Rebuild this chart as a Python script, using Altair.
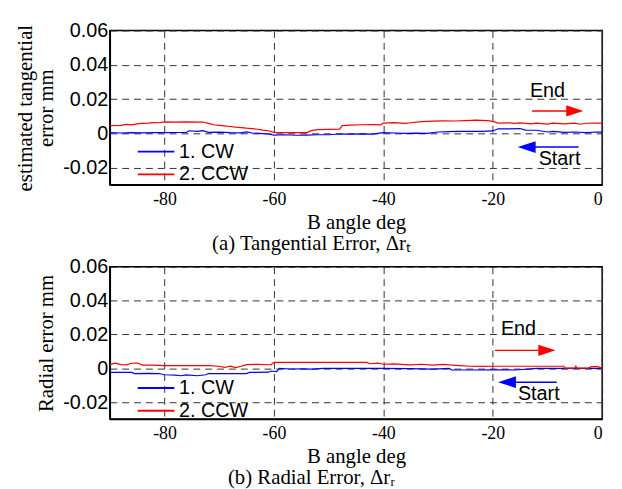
import altair as alt
import pandas as pd

# ---------------- data ----------------
series_names = ["1. CW", "2. CCW"]
series_colors = ["#0000ff", "#ff0000"]

# (a) tangential error, CCW (red)
tan_ccw_x = [-90, -88, -87, -86, -85, -84, -83, -82, -81, -80, -78, -76, -74, -73, -72, -71, -70, -69,
             -68, -67, -66, -65, -64, -63, -62, -61, -60, -58, -56, -54, -53, -52, -50, -48, -47.5,
             -46, -44, -42, -40.5, -40, -38, -36, -35, -33, -31, -29, -27, -25, -23, -21, -20, -19,
             -17, -16, -15, -13, -12, -10, -9, -7, -5, -4, -3, -1, 0]
tan_ccw_y = [0.0045, 0.0047, 0.0052, 0.0050, 0.0055, 0.0058, 0.0060, 0.0063, 0.0062, 0.0067, 0.0066,
             0.0067, 0.0065, 0.0066, 0.0058, 0.0050, 0.0047, 0.0044, 0.0040, 0.0036, 0.0033, 0.0030,
             0.0028, 0.0024, 0.0019, 0.0015, 0.0006, 0.0004, 0.0005, 0.0004, 0.0017, 0.0022, 0.0023,
             0.0025, 0.0045, 0.0048, 0.0050, 0.0051, 0.0050, 0.0060, 0.0063, 0.0058, 0.0062, 0.0068,
             0.0071, 0.0073, 0.0072, 0.0074, 0.0077, 0.0074, 0.0070, 0.0060, 0.0061, 0.0058, 0.0061,
             0.0055, 0.0060, 0.0054, 0.0060, 0.0055, 0.0060, 0.0053, 0.0059, 0.0060, 0.0060]

# (a) tangential error, CW (blue)
tan_cw_x = [-90, -88, -86, -84, -82, -80, -78, -76, -75.5, -74, -73, -72, -70, -68, -66, -65, -64, -62,
            -61, -60, -58, -56, -54, -52, -50, -48, -46, -44, -42, -40, -38, -36, -34, -32, -30, -28,
            -26, -24, -22, -20, -19, -17, -15, -14, -12, -10, -9, -7, -5, -3, -1, 0]
tan_cw_y = [0.0004, 0.0002, 0.0004, 0.0003, 0.0004, 0.0004, 0.0005, 0.0006, 0.0015, 0.0012, 0.0016,
            0.0006, 0.0007, 0.0004, 0.0003, 0.0008, 0.0002, -0.0002, -0.0004, -0.0010, -0.0008,
            -0.0011, -0.0010, -0.0008, -0.0008, -0.0004, -0.0004, -0.0003, -0.0004, 0.0004, 0.0002,
            0.0000, 0.0001, 0.0000, 0.0008, 0.0010, 0.0012, 0.0011, 0.0012, 0.0014, 0.0027, 0.0026,
            0.0028, 0.0019, 0.0018, 0.0008, 0.0012, 0.0006, 0.0008, 0.0004, 0.0008, 0.0007]

# (b) radial error, CCW (red)
rad_ccw_x = [-90, -89, -88, -87, -86, -85, -84, -82, -80, -76, -72, -70, -69, -68, -67, -66, -65, -63,
             -61, -60.5, -60, -55, -50, -45, -43, -42.5, -41, -40, -38, -36, -35, -33, -31, -29, -28,
             -26, -24, -22, -20, -18, -14, -10, -7, -6.8, -5, -4.8, -4.6, -2.5, -2, -0.8, 0]
rad_ccw_y = [0.0022, 0.0031, 0.0022, 0.0020, 0.0030, 0.0031, 0.0019, 0.0019, 0.0016, 0.0016, 0.0016,
             0.0012, 0.0005, 0.0013, 0.0004, 0.0012, 0.0022, 0.0023, 0.0021, 0.0022, 0.0035, 0.0035,
             0.0035, 0.0035, 0.0035, 0.0027, 0.0031, 0.0024, 0.0026, 0.0022, 0.0020, 0.0024, 0.0019,
             0.0023, 0.0020, 0.0016, 0.0012, 0.0011, 0.0012, 0.0012, 0.0012, 0.0012, 0.0012, 0.0001,
             0.0001, 0.0012, 0.0001, 0.0001, 0.0010, 0.0010, 0.0001]

# (b) radial error, CW (blue)
rad_cw_x = [-90, -86, -85.5, -83, -81, -80, -78, -77, -76, -74, -72.5, -72, -68, -65, -64.5, -61,
            -60.5, -59.5, -59, -57, -55, -53, -51, -45, -40, -35, -31, -28, -27.5, -24, -20, -16,
            -13, -12, -5, 0]
rad_cw_y = [-0.0024, -0.0024, -0.0031, -0.0030, -0.0031, -0.0038, -0.0040, -0.0044, -0.0039, -0.0044,
            -0.0038, -0.0031, -0.0031, -0.0031, -0.0024, -0.0023, -0.0016, -0.0020, 0.0000, -0.0004,
            -0.0003, -0.0005, 0.0000, 0.0000, 0.0000, -0.0002, -0.0005, 0.0000, -0.0009, -0.0010,
            -0.0009, -0.0010, -0.0003, 0.0000, 0.0000, 0.0000]

# annotation anchors (data units): [x, y]
tan_end_label = [-13.2, 0.0246]
tan_start_label = [-11.6, -0.0149]
tan_end_arrow = [-12.8, -5.0, 0.0131]      # shaft start x, head x, y
tan_start_arrow = [-4.3, -13.8, -0.0080]
rad_end_label = [-18.5, 0.0229]
rad_start_label = [-15.4, -0.0153]
rad_end_arrow = [-19.6, -10.1, 0.0106]
rad_start_arrow = [-8.3, -17.4, -0.0082]

x_ticks = [-80, -60, -40, -20, 0]
y_ticks = [-0.02, 0, 0.02, 0.04, 0.06]

SANS = "Liberation Sans"
SERIF = "Liberation Serif"
RIGHT_HEAD = "M-1,-0.65L1,0L-1,0.65Z"
LEFT_HEAD = "M1,-0.65L-1,0L1,0.65Z"
LEGEND_LINE = "M-1,0L3,0"


def panel(cw_x, cw_y, ccw_x, ccw_y, ytitle, caption, end_lbl, start_lbl, end_arr, start_arr, h):
    df = pd.concat([
        pd.DataFrame({"deg": cw_x, "err": cw_y, "series": series_names[0]}),
        pd.DataFrame({"deg": ccw_x, "err": ccw_y, "series": series_names[1]}),
    ])
    xs = alt.Scale(domain=[-90, 0], nice=False)
    ys = alt.Scale(domain=[-0.03, 0.06], nice=False)
    lines = alt.Chart(df).mark_line(strokeWidth=1.2).encode(
        x=alt.X("deg:Q", scale=xs, title="B angle deg",
                axis=alt.Axis(values=x_ticks, tickCount=20, labelExpr="'' + datum.value")),
        y=alt.Y("err:Q", scale=ys, title=ytitle,
                axis=alt.Axis(values=y_ticks, tickCount=20, labelOverlap=False,
                              labelExpr="'' + datum.value")),
        color=alt.Color("series:N",
                        scale=alt.Scale(domain=series_names, range=series_colors),
                        legend=alt.Legend(title=None, orient="none", legendX=27, legendY=112,
                                          symbolType=LEGEND_LINE, symbolSize=342,
                                          symbolStrokeWidth=2, labelFont=SANS,
                                          labelFontSize=20, labelColor="black",
                                          rowPadding=2, labelOffset=22, padding=0)),
        order=alt.Order("deg:Q"),
    )
    ann = pd.DataFrame({
        "x": [end_lbl[0], start_lbl[0]], "y": [end_lbl[1], start_lbl[1]],
        "t": ["End", "Start"]})
    texts = alt.Chart(ann).mark_text(align="left", baseline="middle", font=SANS,
                                     fontSize=20, color="black").encode(
        x=alt.X("x:Q", scale=xs), y=alt.Y("y:Q", scale=ys), text="t:N")
    arr = pd.DataFrame({
        "x": [end_arr[0], start_arr[0]], "x2": [end_arr[1], start_arr[1]],
        "y": [end_arr[2], start_arr[2]], "c": series_names[::-1]})
    shafts = alt.Chart(arr).mark_rule(strokeWidth=1.5).encode(
        x=alt.X("x:Q", scale=xs), x2="x2:Q", y=alt.Y("y:Q", scale=ys),
        color=alt.Color("c:N", scale=alt.Scale(domain=series_names, range=series_colors),
                        legend=None))
    head_r = alt.Chart(arr.iloc[[0]]).mark_point(shape=RIGHT_HEAD, filled=True, size=300,
                                                 opacity=1, color="#ff0000").encode(
        x=alt.X("x2:Q", scale=xs), y=alt.Y("y:Q", scale=ys))
    head_l = alt.Chart(arr.iloc[[1]]).mark_point(shape=LEFT_HEAD, filled=True, size=330,
                                                 opacity=1, color="#0000ff").encode(
        x=alt.X("x2:Q", scale=xs), y=alt.Y("y:Q", scale=ys))
    return alt.layer(lines, shafts, head_r, head_l, texts).properties(
        width=498, height=h,
        title=alt.TitleParams(caption, orient="bottom", anchor="middle", font=SERIF,
                              fontSize=21, fontWeight="normal", offset=1, dx=-45,
                              color="black"))


p1 = panel(tan_cw_x, tan_cw_y, tan_ccw_x, tan_ccw_y, ["estimated tangential", "error mm"],
           "(a) Tangential Error,  \u0394r\u209c", tan_end_label, tan_start_label,
           tan_end_arrow, tan_start_arrow, 156)
p2 = panel(rad_cw_x, rad_cw_y, rad_ccw_x, rad_ccw_y, "Radial error mm",
           "(b) Radial Error,  \u0394r\u1d63", rad_end_label, rad_start_label,
           rad_end_arrow, rad_start_arrow, 154)

chart = alt.vconcat(p1, p2, spacing=1).resolve_scale(color="independent").resolve_legend(
    color="independent").properties(
    padding={"left": 5, "top": 9, "right": 8, "bottom": 0}
).configure_view(stroke="black", strokeWidth=1.5).configure_axis(
    grid=True, gridColor="#333333", gridDash=[7, 5], gridWidth=1, gridOpacity=1,
    domainColor="black", domainWidth=1.5, ticks=False,
    labelColor="black", titleColor="black", titleFont=SERIF, titleFontSize=21,
    titleFontWeight="normal",
).configure_axisX(
    labelFont=SERIF, labelFontSize=18, labelPadding=6, titlePadding=3,
).configure_axisY(
    labelFont=SANS, labelFontSize=20, labelPadding=2, titlePadding=6, titleLineHeight=22,
)

chart.save("out.html", embed_options={"renderer": "svg", "actions": False})
